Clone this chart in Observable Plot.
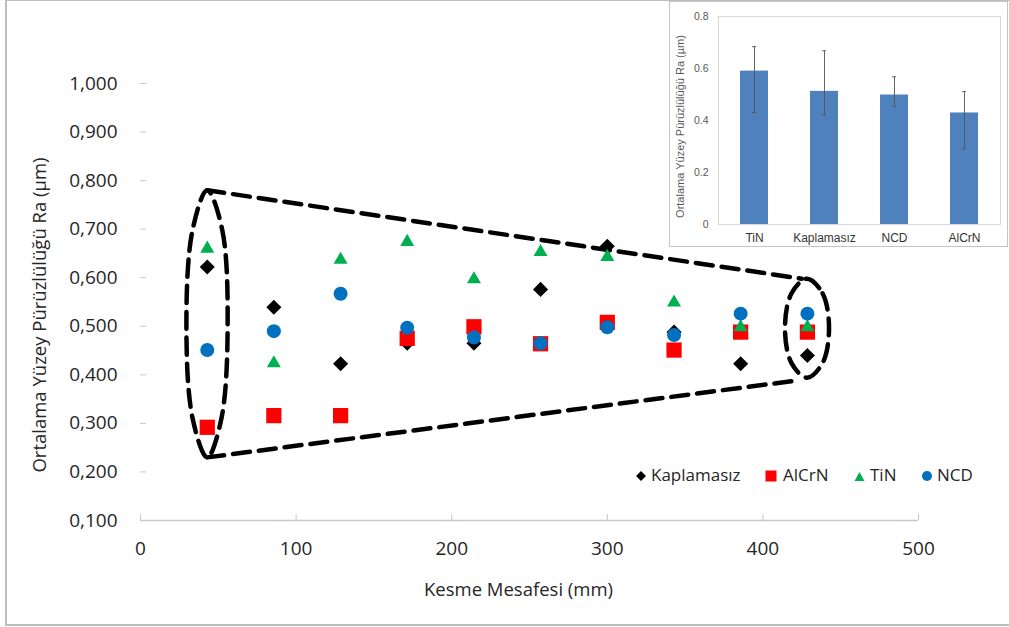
<!DOCTYPE html>
<html><head><meta charset="utf-8">
<script src="https://cdn.jsdelivr.net/npm/d3@7"></script>
<script src="https://cdn.jsdelivr.net/npm/@observablehq/plot@0.6"></script>
<style>
body{margin:0;background:#fff;}
#wrap{position:relative;width:1009px;height:627px;overflow:hidden;background:#fff;}
#frame{position:absolute;left:5px;top:-1px;width:1100px;height:627px;border:2px solid #bdbdbd;box-sizing:border-box;}
#main{position:absolute;left:0;top:0;}
#insetBox{position:absolute;left:669px;top:1px;width:339px;height:246px;border:1px solid #c4c4c4;box-sizing:border-box;background:#fff;}
#inset{position:absolute;left:0;top:0;}
.lg{position:absolute;font-family:"Open Sans";font-size:17px;line-height:20px;color:#262626;white-space:nowrap;}
.lgs{position:absolute;}
</style></head>
<body><div id="wrap"><div id="frame"></div><div id="main"></div>
<div id="insetBox"><div id="inset"></div></div>
<svg class="lgs" style="left:635px;top:470px" width="12" height="12"><rect x="2.5" y="2.5" width="7" height="7" fill="#000" transform="rotate(45 6 6)"/></svg>
<div class="lg" style="left:651px;top:465px">Kaplamasız</div>
<svg class="lgs" style="left:765px;top:470px" width="12" height="12"><rect x="0.5" y="0.5" width="11" height="11" fill="#ff0000"/></svg>
<div class="lg" style="left:783px;top:465px">AlCrN</div>
<svg class="lgs" style="left:854px;top:471px" width="11" height="11"><polygon points="5.5,1 10.5,10 0.5,10" fill="#00b050"/></svg>
<div class="lg" style="left:870px;top:465px">TiN</div>
<svg class="lgs" style="left:921px;top:470px" width="12" height="12"><circle cx="6" cy="6" r="5" fill="#0070c0"/></svg>
<div class="lg" style="left:937px;top:465px">NCD</div>
</div>
<script>
// ---- main chart data ----
const distances = [42.9, 85.7, 128.6, 171.4, 214.3, 257.1, 300, 342.9, 385.7, 428.6];
const kaplamasiz = [0.622, 0.539, 0.423, 0.465, 0.465, 0.576, 0.665, 0.488, 0.423, 0.440];
const alcrn = [0.292, 0.316, 0.316, 0.475, 0.499, 0.464, 0.508, 0.451, 0.488, 0.488];
const tin = [0.664, 0.428, 0.641, 0.678, 0.601, 0.657, 0.647, 0.553, 0.502, 0.502];
const ncd = [0.451, 0.490, 0.567, 0.497, 0.477, 0.465, 0.498, 0.482, 0.526, 0.526];
const xTicks = [0, 100, 200, 300, 400, 500];
const yTicks = [0.1, 0.2, 0.3, 0.4, 0.5, 0.6, 0.7, 0.8, 0.9, 1.0];
const xTitle = "Kesme Mesafesi (mm)";
const yTitle = "Ortalama Yüzey Pürüzlülüğü Ra (µm)";

// dashed annotation outline (data units)
const coneTopX = [42.9, 425];
const coneTopY = [0.780, 0.598];
const coneBottomX = [42.9, 421];
const coneBottomY = [0.230, 0.388];
const leftLoopX = [42.9, 52.5, 56.0, 52.0, 42.9, 33.5, 29.5, 33.5];
const leftLoopY = [0.780, 0.699, 0.505, 0.310, 0.230, 0.310, 0.505, 0.699];
const rightLoopX = [428.3, 438.3, 442.5, 438.3, 428.3, 418.4, 414.2, 418.4];
const rightLoopY = [0.598, 0.568, 0.496, 0.424, 0.394, 0.424, 0.496, 0.568];

// ---- inset data ----
const insetCats = ["TiN", "Kaplamasız", "NCD", "AlCrN"];
const insetMeans = [0.590, 0.512, 0.498, 0.429];
const insetLow = [0.431, 0.422, 0.453, 0.291];
const insetHigh = [0.684, 0.668, 0.568, 0.511];
const insetTicks = [0, 0.2, 0.4, 0.6, 0.8];

const rows = arr => distances.map((d, i) => ({x: d, y: arr[i]}));
const pts = (xs, ys) => xs.map((x, i) => ({x, y: ys[i]}));
const fmt = d => d3.format(".3f")(d).replace(".", ",");
const dash = {stroke: "#000", strokeWidth: 4.5, strokeDasharray: "17,9"};

const main = Plot.plot({
  width: 1009, height: 627,
  marginLeft: 140, marginRight: 91, marginTop: 83, marginBottom: 107,
  x: {domain: [0, 500], label: null},
  y: {domain: [0.1, 1.0], label: null},
  style: {fontFamily: "Open Sans", background: "transparent"},
  marks: [
    Plot.ruleY([0.1], {stroke: "#c8c8c8", strokeWidth: 1.3}),
    Plot.axisX({ticks: xTicks, tickSize: -6, stroke: "#c8c8c8", tickFormat: () => "", label: null}),
    Plot.axisX({ticks: xTicks, tickSize: 0, tickPadding: 21, fontSize: 19, fill: "#262626", tickFormat: d => String(d), label: null}),
    Plot.axisY({ticks: yTicks, tickSize: -6, stroke: "#c8c8c8", tickFormat: () => "", label: null}),
    Plot.axisY({ticks: yTicks, tickSize: 0, tickPadding: 23, fontSize: 19, fill: "#262626", tickFormat: fmt, label: null}),
    Plot.text([xTitle], {text: d => d, frameAnchor: "bottom", textAnchor: "middle", dx: -11, dy: 75, fontSize: 18.5, fill: "#262626"}),
    Plot.text([yTitle], {text: d => d, frameAnchor: "left", textAnchor: "middle", dx: -100, dy: 13, rotate: -90, fontSize: 18.5, fill: "#262626"}),
    Plot.line(pts(coneTopX, coneTopY), {x: "x", y: "y", ...dash}),
    Plot.line(pts(coneBottomX, coneBottomY), {x: "x", y: "y", ...dash}),
    Plot.line(pts(leftLoopX, leftLoopY), {x: "x", y: "y", curve: "catmull-rom-closed", ...dash}),
    Plot.line(pts(rightLoopX, rightLoopY), {x: "x", y: "y", curve: "catmull-rom-closed", ...dash}),
    Plot.dot(rows(kaplamasiz), {x: "x", y: "y", symbol: "square", rotate: 45, r: 6, fill: "#000"}),
    Plot.dot(rows(alcrn), {x: "x", y: "y", symbol: "square", r: 8.6, fill: "#ff0000"}),
    Plot.dot(rows(tin), {x: "x", y: "y", symbol: "triangle", r: 5.2, dy: 2, fill: "#00b050"}),
    Plot.dot(rows(ncd), {x: "x", y: "y", symbol: "circle", r: 7, fill: "#0070c0"})
  ]
});
document.getElementById("main").append(main);

const insetRows = insetCats.map((c, i) => ({cat: c, mean: insetMeans[i], lo: insetLow[i], hi: insetHigh[i]}));
const inset = Plot.plot({
  width: 337, height: 244,
  marginLeft: 48, marginRight: 7, marginTop: 14, marginBottom: 22,
  x: {domain: insetCats, paddingInner: 0.6, paddingOuter: 0.3, label: null},
  y: {domain: [0, 0.8], label: null},
  style: {fontFamily: "Liberation Sans", background: "transparent"},
  marks: [
    Plot.frame({stroke: "#d9d9d9"}),
    Plot.barY(insetRows, {x: "cat", y: "mean", fill: "#4f81bd"}),
    Plot.ruleX(insetRows, {x: "cat", y1: "lo", y2: "hi", stroke: "#555", strokeWidth: 0.9}),
    Plot.tickY(insetRows, {x: "cat", y: "lo", insetLeft: 12, insetRight: 12, stroke: "#555", strokeWidth: 0.9}),
    Plot.tickY(insetRows, {x: "cat", y: "hi", insetLeft: 12, insetRight: 12, stroke: "#555", strokeWidth: 0.9}),
    Plot.axisY({ticks: insetTicks, tickSize: 0, tickPadding: 10, fontSize: 10.5, fill: "#595959", tickFormat: d => String(d), label: null}),
    Plot.axisX({tickSize: 0, tickPadding: 9, fontSize: 12, fill: "#333", label: null}),
    Plot.text([yTitle], {text: d => d, frameAnchor: "left", textAnchor: "middle", dx: -38, dy: 6, rotate: -90, fontSize: 11, fill: "#595959"})
  ]
});
document.getElementById("inset").append(inset);
</script>
</body></html>
